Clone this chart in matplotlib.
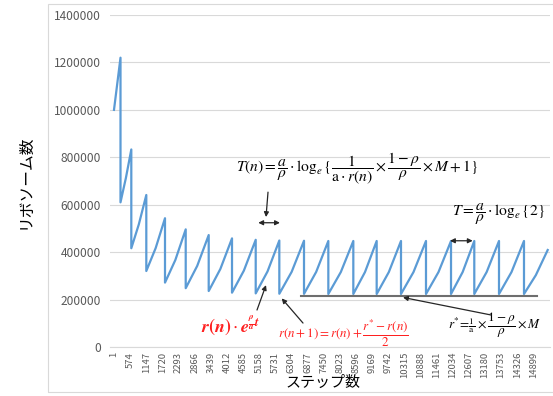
import matplotlib
matplotlib.use("Agg")
import matplotlib.pyplot as plt
from matplotlib.patches import Rectangle

plt.rcParams['font.family'] = ['Noto Sans CJK JP', 'DejaVu Sans']
plt.rcParams['mathtext.fontset'] = 'stix'

# --- datos ---
start_step = 1
start_value = 1000000

# paso donde la poblacion se divide, valor justo antes (pico) y despues (valle)
drop_steps = [232, 616, 1149, 1813, 2549, 3366, 4194, 5036, 5875, 6752,
              7616, 8504, 9334, 10198, 11086, 11975, 12802, 13680, 14568]
peak_values = [1220000, 833000, 641000, 543000, 496000, 472000, 458000,
               452000, 449000, 448000, 447000, 447000, 447000, 447000,
               447000, 447000, 447000, 447000, 447000]
trough_values = [610000, 416500, 320500, 271500, 248000, 236000, 229000,
                 226000, 224500, 224000, 223500, 223500, 223500, 223500,
                 223500, 223500, 223500, 223500, 223500]
# valor a mitad de cada tramo de subida (la curva es ligeramente convexa)
mid_values = [713000, 517000, 417000, 367000, 342000, 329000, 322000,
              318500, 317000, 316500, 316000, 316000, 316000, 316000,
              316000, 316000, 316000, 316000, 303000]
end_step = 15410
end_value = 409000

floor_value = 215000
floor_steps = [6645, 15030]

x_ticks = list(range(1, 15000, 573))
y_ticks = [0, 200000, 400000, 600000, 800000, 1000000, 1200000, 1400000]

BLUE = '#5B9BD5'
RED = '#FF2020'
GRID = '#D9D9D9'
TICK = '#595959'


def build_series():
    """Arma la serie de diente de sierra a partir de picos y valles."""
    xs, ys = [start_step], [start_value]
    for i, s in enumerate(drop_steps):
        nxt = drop_steps[i + 1] if i + 1 < len(drop_steps) else end_step
        xs += [s, s, (s + nxt) / 2]
        ys += [peak_values[i], trough_values[i], mid_values[i]]
    xs.append(end_step)
    ys.append(end_value)
    return xs, ys


def arrow(ax, tail, head, style='-|>'):
    ax.annotate('', xy=head, xytext=tail,
                arrowprops=dict(arrowstyle=style, color='#262626', lw=0.9,
                                mutation_scale=7, shrinkA=0, shrinkB=0))


def main():
    W, H = 553, 396
    fig = plt.figure(figsize=(W / 100, H / 100), dpi=100)
    fig.patches.append(Rectangle((48 / W, 4 / H), 1, 388 / H, transform=fig.transFigure,
                                 fill=False, edgecolor=GRID, lw=0.8))
    ax = fig.add_axes([110 / W, 49 / H, 440 / W, 332 / H])

    xs, ys = build_series()
    ax.plot(xs, ys, color=BLUE, lw=1.6, solid_joinstyle='round')
    ax.plot(floor_steps, [floor_value, floor_value], color='#6E6E6E', lw=1.5)

    ax.set_xlim(-141, 15492)
    ax.set_ylim(0, 1400000)
    ax.set_yticks(y_ticks)
    ax.set_yticklabels([str(v) for v in y_ticks])
    ax.set_xticks(x_ticks)
    ax.set_xticklabels([str(v) for v in x_ticks], rotation=90)
    ax.tick_params(axis='y', length=0, pad=6.5, labelsize=8.6, labelcolor=TICK)
    ax.tick_params(axis='x', length=0, pad=3.5, labelsize=6.8, labelcolor=TICK)
    ax.grid(axis='y', color=GRID, lw=0.8)
    ax.set_axisbelow(True)
    for side in ['top', 'right', 'left']:
        ax.spines[side].set_visible(False)
    ax.spines['bottom'].set_color(GRID)
    ax.spines['bottom'].set_linewidth(0.8)

    fig.text(25 / W, 1 - 182 / H, 'リボソーム数', rotation=90,
             ha='center', va='center', fontsize=11.3)
    fig.text(323 / W, 1 - 383 / H, 'ステップ数', ha='center', va='center',
             fontsize=10.8)

    # formulas
    ax.text(8648, 750000,
            r'$T(n)=\dfrac{a}{\rho}\cdot\log_e\{\dfrac{1}{\mathrm{a}\cdot r(n)}'
            r'\times\dfrac{1-\rho}{\rho}\times M+1\}$',
            ha='center', va='center', fontsize=11.2)
    arrow(ax, (5473, 653000), (5402, 548000))
    arrow(ax, (5127, 524000), (5896, 524000), '<|-|>')

    ax.text(13655, 561000, r'$T=\dfrac{a}{\rho}\cdot\log_e\{2\}$',
            ha='center', va='center', fontsize=11.2)
    arrow(ax, (11939, 448000), (12745, 448000), '<|-|>')

    ax.text(4151, 87000,
            r'$\mathbfit{r}\mathbf{(}\mathbfit{n}\mathbf{)}\cdot'
            r'\mathbfit{e}^{\frac{\mathbfit{\rho}}{\mathbfit{a}}\mathbfit{t}}$',
            ha='center', va='center', fontsize=13, color=RED)
    arrow(ax, (5082, 156000), (5402, 261000))

    ax.text(8148, 59000, r'$r(n+1)=r(n)+\dfrac{r^{*}-r(n)}{2}$',
            ha='center', va='center', fontsize=9.4, color=RED)
    arrow(ax, (6716, 101000), (5960, 205000))

    ax.text(13538, 93000,
            r'$r^{*}\!=\!\frac{1}{\mathrm{a}}\times\dfrac{1-\rho}{\rho}\times M$',
            ha='center', va='center', fontsize=9.5)
    arrow(ax, (13397, 135000), (10270, 209000))

    fig.savefig('out.png', dpi=100)


if __name__ == "__main__":
    main()
